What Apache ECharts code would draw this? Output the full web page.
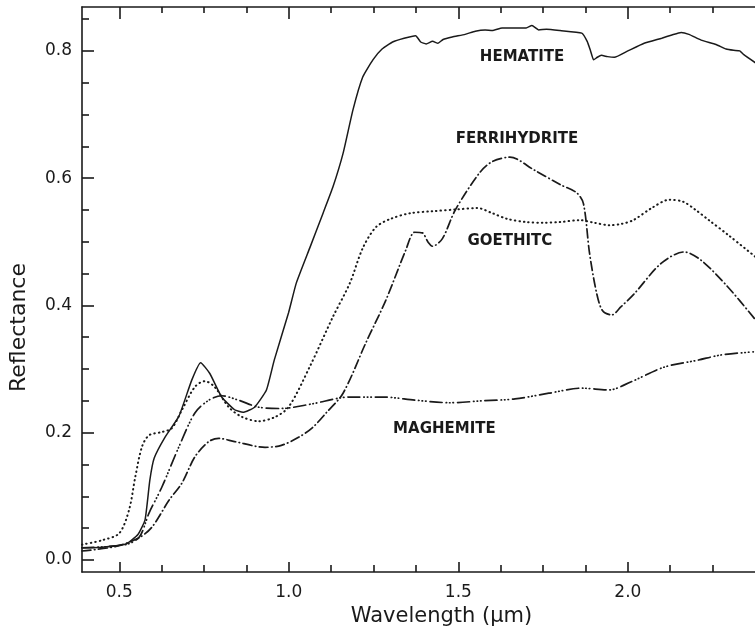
<!DOCTYPE html>
<html>
<head>
<meta charset="utf-8">
<script src="https://cdn.jsdelivr.net/npm/echarts@6/dist/echarts.min.js"></script>
<style>
html,body{margin:0;padding:0;background:#fff;}
#chart{width:755px;height:635px;}
</style>
</head>
<body>
<div id="chart"></div>
<script>
// ---- data ----
const xMajorTicks = [0.5, 1.0, 1.5, 2.0];
const xMinorTicks = [0.625, 0.75, 0.875, 1.125, 1.25, 1.375, 1.625, 1.75, 1.875, 2.125, 2.25];
const yMajorTicks = [0.0, 0.2, 0.4, 0.6, 0.8];
const yMinorTicks = [0.05, 0.1, 0.15, 0.25, 0.3, 0.35, 0.45, 0.5, 0.55, 0.65, 0.7, 0.75, 0.85];

const hematiteX = [0.39,0.45,0.52,0.555,0.576,0.590,0.603,0.635,0.676,0.714,0.740,0.767,0.802,0.840,0.865,0.899,0.934,0.957,0.999,1.022,1.063,1.101,1.13,1.16,1.189,1.218,1.248,1.275,1.306,1.340,1.374,1.389,1.405,1.424,1.44,1.455,1.482,1.52,1.55,1.579,1.60,1.629,1.66,1.70,1.717,1.737,1.76,1.80,1.864,1.880,1.890,1.899,1.910,1.922,1.94,1.96,2.00,2.048,2.10,2.13,2.157,2.18,2.216,2.26,2.29,2.312,2.33,2.342,2.377];
const hematiteY = [0.019,0.020,0.025,0.040,0.063,0.125,0.160,0.193,0.226,0.283,0.310,0.293,0.256,0.236,0.232,0.240,0.267,0.314,0.388,0.435,0.492,0.545,0.586,0.639,0.707,0.759,0.786,0.803,0.814,0.820,0.824,0.814,0.811,0.815,0.812,0.818,0.822,0.826,0.831,0.833,0.832,0.836,0.836,0.836,0.840,0.833,0.834,0.832,0.828,0.815,0.800,0.786,0.790,0.793,0.791,0.790,0.800,0.812,0.820,0.825,0.829,0.826,0.817,0.810,0.803,0.801,0.800,0.794,0.781];

const goethiteX = [0.39,0.45,0.50,0.529,0.547,0.567,0.588,0.626,0.655,0.685,0.723,0.752,0.781,0.823,0.861,0.911,0.957,0.999,1.063,1.13,1.18,1.218,1.257,1.300,1.359,1.424,1.497,1.556,1.60,1.644,1.70,1.752,1.80,1.858,1.90,1.946,1.98,2.016,2.07,2.122,2.163,2.20,2.239,2.30,2.377];
const goethiteY = [0.024,0.031,0.042,0.079,0.130,0.178,0.196,0.201,0.207,0.236,0.272,0.281,0.272,0.240,0.225,0.218,0.224,0.240,0.305,0.382,0.435,0.490,0.523,0.536,0.545,0.548,0.551,0.553,0.545,0.536,0.531,0.530,0.531,0.534,0.530,0.526,0.528,0.534,0.553,0.566,0.563,0.550,0.534,0.509,0.476];

const ferrihydriteX = [0.39,0.488,0.559,0.597,0.647,0.685,0.723,0.764,0.793,0.840,0.93,0.978,1.03,1.07,1.11,1.16,1.227,1.286,1.345,1.371,1.394,1.410,1.424,1.453,1.491,1.562,1.60,1.652,1.723,1.80,1.849,1.869,1.887,1.908,1.925,1.952,1.98,2.02,2.098,2.166,2.216,2.295,2.377];
const ferrihydriteY = [0.014,0.021,0.035,0.052,0.094,0.121,0.162,0.186,0.191,0.186,0.177,0.180,0.193,0.208,0.231,0.262,0.341,0.408,0.487,0.515,0.514,0.500,0.493,0.505,0.550,0.608,0.626,0.633,0.613,0.590,0.577,0.560,0.482,0.419,0.392,0.385,0.398,0.419,0.466,0.484,0.471,0.429,0.377];

const maghemiteX = [0.39,0.518,0.559,0.588,0.626,0.676,0.723,0.764,0.802,0.852,0.911,0.978,1.066,1.18,1.277,1.374,1.474,1.57,1.667,1.767,1.864,1.943,2.01,2.107,2.207,2.274,2.37];
const maghemiteY = [0.019,0.024,0.036,0.074,0.115,0.178,0.231,0.251,0.258,0.251,0.240,0.238,0.245,0.256,0.256,0.251,0.247,0.250,0.253,0.262,0.270,0.267,0.280,0.303,0.314,0.322,0.327];

const labelNames = ['HEMATITE', 'FERRIHYDRITE', 'GOETHITC', 'MAGHEMITE'];
const labelX = [1.688, 1.673, 1.652, 1.459];
const labelY = [0.790, 0.661, 0.501, 0.206];

// ---- chart ----
const X_MIN = 0.39, X_MAX = 2.375, Y_MIN = -0.019, Y_MAX = 0.869;
const INK = '#1a1a1a';
const FONT = 'DejaVu Sans';
const zip = (xs, ys) => xs.map((x, i) => [x, ys[i]]);

function xAxisDef(pos, ticks, len, showLine, labels) {
  return {
    type: 'value', position: pos, min: X_MIN, max: X_MAX,
    axisLine: {show: showLine, onZero: false, lineStyle: {color: INK, width: 1.6}},
    axisTick: {show: true, inside: true, length: len, customValues: ticks, lineStyle: {color: INK, width: 1.6}},
    axisLabel: labels ? {show: true, customValues: ticks, formatter: v => v.toFixed(1), color: INK, fontFamily: FONT, fontSize: 17, margin: 12} : {show: false},
    splitLine: {show: false}
  };
}
function yAxisDef(pos, ticks, len, showLine, labels) {
  return {
    type: 'value', position: pos, min: Y_MIN, max: Y_MAX,
    axisLine: {show: showLine, onZero: false, lineStyle: {color: INK, width: 1.6}},
    axisTick: {show: true, inside: true, length: len, customValues: ticks, lineStyle: {color: INK, width: 1.6}},
    axisLabel: labels ? {show: true, customValues: ticks, formatter: v => v.toFixed(1), color: INK, fontFamily: FONT, fontSize: 17, margin: 10} : {show: false},
    splitLine: {show: false}
  };
}

const xMain = xAxisDef('bottom', xMajorTicks, 10, true, true);
xMain.name = 'Wavelength (µm)';
xMain.nameLocation = 'middle';
xMain.nameGap = 34;
xMain.nameTextStyle = {color: INK, fontFamily: FONT, fontSize: 21, padding: [0, 0, 0, 46]};

const yMain = yAxisDef('left', yMajorTicks, 12, true, true);
yMain.name = 'Reflectance';
yMain.nameLocation = 'middle';
yMain.nameGap = 52;
yMain.nameTextStyle = {color: INK, fontFamily: FONT, fontSize: 22, padding: [0, 76, 0, 0]};

function lineSeries(name, xs, ys, type, width, smooth) {
  return {
    name: name, type: 'line', xAxisIndex: 0, yAxisIndex: 0,
    data: zip(xs, ys), showSymbol: false, symbol: 'none', smooth: smooth,
    lineStyle: {color: INK, width: width, type: type, cap: 'round'},
    silent: true, animation: false
  };
}

const option = {
  animation: false,
  backgroundColor: '#fff',
  grid: {left: 78, right: 0, top: 7, bottom: 63, containLabel: false},
  xAxis: [
    xMain,
    xAxisDef('bottom', xMinorTicks, 7, false, false),
    xAxisDef('top', xMajorTicks, 12, true, false),
    xAxisDef('top', xMinorTicks, 6, false, false)
  ],
  yAxis: [
    yMain,
    yAxisDef('left', yMinorTicks, 7, false, false)
  ],
  series: [
    lineSeries('Hematite', hematiteX, hematiteY, 'solid', 1.5, 0.15),
    lineSeries('Goethite', goethiteX, goethiteY, [0.5, 4], 2, 0.3),
    lineSeries('Ferrihydrite', ferrihydriteX, ferrihydriteY, [9, 3.5, 0.5, 3.5], 1.7, 0.3),
    lineSeries('Maghemite', maghemiteX, maghemiteY, [12, 4, 0.5, 3, 0.5, 3, 0.5, 4], 1.7, 0.3),
    {
      type: 'scatter', xAxisIndex: 0, yAxisIndex: 0, symbolSize: 0, silent: true,
      itemStyle: {opacity: 1, color: INK},
      data: labelNames.map((n, i) => ({name: n, value: [labelX[i], labelY[i]]})),
      label: {show: true, position: 'inside', formatter: p => p.name, color: INK, opacity: 1, fontFamily: FONT, fontSize: 15, fontWeight: 'bold'}
    }
  ]
};

const chart = echarts.init(document.getElementById('chart'), null, {renderer: 'canvas'});
chart.setOption(option);
</script>
</body>
</html>
